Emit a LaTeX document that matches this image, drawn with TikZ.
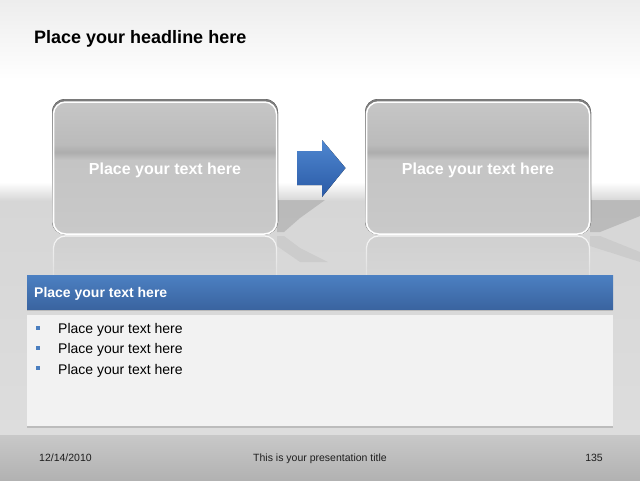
\documentclass[tikz,border=0pt]{standalone}
\usepackage{fontspec}
\setmainfont{Liberation Sans}
\usetikzlibrary{shadows,fadings}
\definecolor{bgTop}{HTML}{EDEDED}
\definecolor{floorTop}{HTML}{D6D6D6}
\definecolor{floorBot}{HTML}{DDDDDD}
\definecolor{bxA}{HTML}{C6C6C6}
\definecolor{bxB}{HTML}{BBBBBB}
\definecolor{bxC}{HTML}{ADADAD}
\definecolor{bxD}{HTML}{C4C4C4}
\definecolor{bxE}{HTML}{C9C9C9}
\definecolor{rimTop}{HTML}{7A7A7A}
\definecolor{rimBot}{HTML}{D0D0D0}
\definecolor{arrTop}{HTML}{4F87D0}
\definecolor{arrBot}{HTML}{2A5AA6}
\definecolor{barTop}{HTML}{4C80C2}
\definecolor{barBot}{HTML}{3A64A0}
\definecolor{panelFill}{HTML}{F2F2F2}
\definecolor{bulletBlue}{HTML}{4A7EBF}
\definecolor{footTop}{HTML}{C8C8C8}
\definecolor{footBot}{HTML}{B2B2B2}
\definecolor{footText}{HTML}{1E1E1E}
\definecolor{reflFill}{HTML}{CFCFCF}
\pgfdeclareverticalshading{boxshade}{100bp}{color(0bp)=(bxE); color(25bp)=(bxE); color(53bp)=(bxD); color(56bp)=(bxC); color(59bp)=(bxB); color(75bp)=(bxA); color(100bp)=(bxA)}
\tikzset{
  bigbox/.style={draw=white, line width=1.5pt, rounded corners=12pt, shading=boxshade,
    minimum width=223pt, minimum height=132pt, inner sep=0pt},
  boxtext/.style={text=white, font=\bfseries\fontsize{16}{18}\selectfont, inner sep=0pt},
  rim/.style={top color=rimTop, bottom color=rimBot, rounded corners=13pt},
  refl/.style={draw=white, line width=1.2pt, fill=reflFill, rounded corners=12pt, path fading=south, opacity=0.8},
  floorshadow/.style={fill=black, fill opacity=0.13},
  floorshadowrefl/.style={fill=black, fill opacity=0.05},
  bluebar/.style={top color=barTop, bottom color=barBot, minimum width=586pt, minimum height=34pt,
    inner sep=0pt, drop shadow={opacity=0.35, shadow xshift=0pt, shadow yshift=-1.5pt}},
  panel/.style={fill=panelFill, minimum width=586pt, minimum height=111pt, inner sep=0pt,
    drop shadow={opacity=0.35, shadow xshift=0pt, shadow yshift=-1.5pt}},
  bartext/.style={anchor=west, text=white, font=\bfseries\fontsize{14}{16}\selectfont, inner sep=0pt},
  itemtext/.style={anchor=base west, font=\fontsize{14}{16}\selectfont, inner sep=0pt},
  bulletsq/.style={fill=bulletBlue, minimum size=4pt, inner sep=0pt},
  foottext/.style={anchor=base, text=footText, font=\fontsize{10.5}{12}\selectfont, inner sep=0pt}
}
\begin{document}
\begin{tikzpicture}[x=1pt,y=-1pt]
\useasboundingbox (0,0) rectangle (640,480);
% background
\fill[top color=bgTop, bottom color=white] (0,0) rectangle (640,80);
\fill[white] (0,80) rectangle (640,182);
\fill[top color=white, bottom color=floorTop] (0,182) rectangle (640,201);
\fill[top color=floorTop, bottom color=floorBot] (0,201) rectangle (640,436);
% floor shadows of the boxes
\fill[floorshadow] (277,200) -- (325,200) -- (300,218) -- (284,232) -- (277,232) -- cycle;
\fill[floorshadowrefl] (277,236) -- (284,236) -- (300,248) -- (328,262) -- (300,262) -- (277,246) -- cycle;
\fill[floorshadow] (590,200) -- (640,200) -- (640,216) -- (600,232) -- (590,232) -- cycle;
\fill[floorshadowrefl] (590,236) -- (600,236) -- (640,252) -- (640,262) -- (590,246) -- cycle;
% reflections
\path[refl] (53.5,236) rectangle (276.5,292);
\path[refl] (366.5,236) rectangle (589.5,292);
% rims
\fill[rim] (52,99) rectangle (278,234.5);
\fill[rim] (365,99) rectangle (591,234.5);
% boxes
\node[bigbox] (boxL) at (165,168) {};
\node[bigbox] (boxR) at (478,168) {};
\node[boxtext] (tL) at (165,170) {Place your text here};
\node[boxtext] (tR) at (478,170) {Place your text here};
% arrow
\fill[top color=arrTop, bottom color=arrBot] (297,151) -- (322,151) -- (322,140) -- (345.5,168) -- (322,197) -- (322,185) -- (297,185) -- cycle;
% headline
\node[anchor=base west, inner sep=0pt, font=\bfseries\fontsize{18}{20}\selectfont] (head) at (34,43) {Place your headline here};
% blue bar and panel
\node[panel] (panel) at (320,370.5) {};
\node[bluebar] (bar) at (320,292) {};
\node[bartext] (bart) at (34,293.5) {Place your text here};
\node[bulletsq] (b1) at (37.5,327.5) {};
\node[bulletsq] (b2) at (37.5,347.5) {};
\node[bulletsq] (b3) at (37.5,368) {};
\node[itemtext] (i1) at (58,333) {Place your text here};
\node[itemtext] (i2) at (58,353.5) {Place your text here};
\node[itemtext] (i3) at (58,374) {Place your text here};
% footer
\fill[top color=footTop, bottom color=footBot] (0,435) rectangle (640,480);
\node[foottext, anchor=base west] (date) at (39,461) {12/14/2010};
\node[foottext] (title) at (320,461) {This is your presentation title};
\node[foottext, anchor=base east] (page) at (603,461) {135};
\end{tikzpicture}
\end{document}
